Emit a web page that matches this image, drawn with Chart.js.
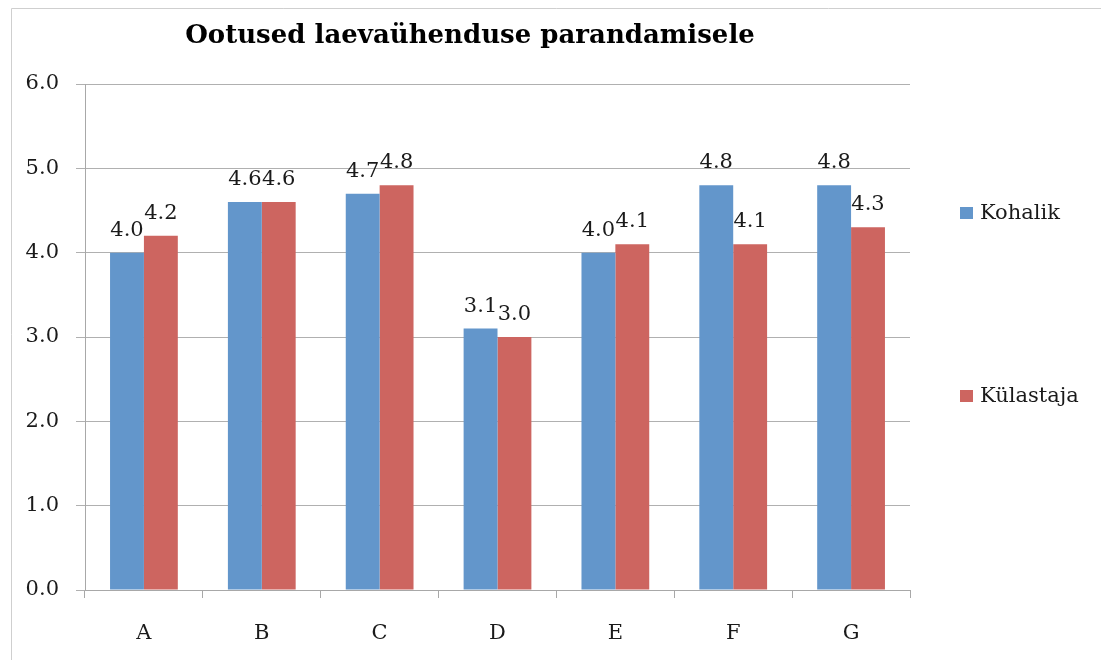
<!DOCTYPE html>
<html lang="et">
<head>
    <meta charset="UTF-8">
    <title>Ootused laevaühenduse parandamisele</title>
    <script src="https://cdn.jsdelivr.net/npm/chart.js"></script>
    <style>
        html, body { margin: 0; padding: 0; background: #fff; }
        #wrap { width: 1101px; height: 660px; }
    </style>
</head>
<body>
    <div id="wrap"><canvas id="myChart" width="1101" height="660"></canvas></div>

    <script>
        // andmed
        const chartTitle = 'Ootused laevaühenduse parandamisele';
        const categories = ['A', 'B', 'C', 'D', 'E', 'F', 'G'];
        const seriesNames = ['Kohalik', 'Külastaja'];
        const kohalik = [4.0, 4.6, 4.7, 3.1, 4.0, 4.8, 4.8];
        const kulastaja = [4.2, 4.6, 4.8, 3.0, 4.1, 4.1, 4.3];
        const yMin = 0, yMax = 6, yStep = 1;

        const serif = "'DejaVu Serif', 'Liberation Serif', serif";
        const colors = ['#6396cb', '#cd6560'];
        const gridColor = '#b0b0b0';

        // pealkiri, legend, raam ja väärtused tulpade kohal
        const extras = {
            id: 'extras',
            beforeDraw(chart) {
                const c = chart.ctx;
                c.save();
                c.strokeStyle = '#cfcfcf';
                c.lineWidth = 1;
                c.beginPath();
                c.moveTo(11.5, 660);
                c.lineTo(11.5, 8.5);
                c.lineTo(1101, 8.5);
                c.stroke();
                c.restore();
            },
            afterDatasetsDraw(chart) {
                const c = chart.ctx;
                c.save();
                c.font = '21px ' + serif;
                c.fillStyle = '#1a1a1a';
                c.textAlign = 'center';
                c.textBaseline = 'alphabetic';
                chart.data.datasets.forEach((ds, i) => {
                    chart.getDatasetMeta(i).data.forEach((bar, j) => {
                        c.fillText(ds.data[j].toFixed(1), bar.x, bar.y - 17);
                    });
                });
                c.restore();
            },
            afterDraw(chart) {
                const c = chart.ctx;
                c.save();
                c.font = 'bold 26px ' + serif;
                c.fillStyle = '#000';
                c.textAlign = 'center';
                c.textBaseline = 'alphabetic';
                c.fillText(chartTitle, 470, 43);

                // legend paremal
                const legendY = [213, 396];
                c.font = '21px ' + serif;
                c.textAlign = 'left';
                c.textBaseline = 'middle';
                chart.data.datasets.forEach((ds, i) => {
                    c.fillStyle = ds.backgroundColor;
                    c.fillRect(960, legendY[i] - 6, 13, 12);
                    c.fillStyle = '#1a1a1a';
                    c.fillText(ds.label, 980, legendY[i] + 1);
                });
                c.restore();
            }
        };

        const ctx = document.getElementById('myChart').getContext('2d');
        new Chart(ctx, {
            type: 'bar',
            data: {
                labels: categories,
                datasets: [
                    { label: seriesNames[0], data: kohalik, backgroundColor: colors[0] },
                    { label: seriesNames[1], data: kulastaja, backgroundColor: colors[1] }
                ]
            },
            options: {
                responsive: false,
                animation: false,
                events: [],
                categoryPercentage: 0.575,
                barPercentage: 1.0,
                layout: { padding: { top: 84, right: 191, left: 0, bottom: 0 } },
                plugins: {
                    legend: { display: false },
                    title: { display: false },
                    tooltip: { enabled: false }
                },
                scales: {
                    x: {
                        grid: {
                            drawOnChartArea: false,
                            drawTicks: true,
                            tickLength: 8,
                            color: '#a8a8a8',
                            offset: true
                        },
                        border: { color: '#a8a8a8' },
                        ticks: { font: { family: serif, size: 21 }, color: '#1a1a1a', padding: 23 },
                        afterFit: s => { s.height = 70; }
                    },
                    y: {
                        min: yMin,
                        max: yMax,
                        ticks: {
                            stepSize: yStep,
                            callback: v => v.toFixed(1),
                            font: { family: serif, size: 21 },
                            color: '#1a1a1a',
                            padding: 17
                        },
                        grid: { color: gridColor, tickLength: 9 },
                        border: { color: '#a8a8a8' },
                        afterFit: s => { s.width = 85; }
                    }
                }
            },
            plugins: [extras]
        });
    </script>
</body>
</html>
